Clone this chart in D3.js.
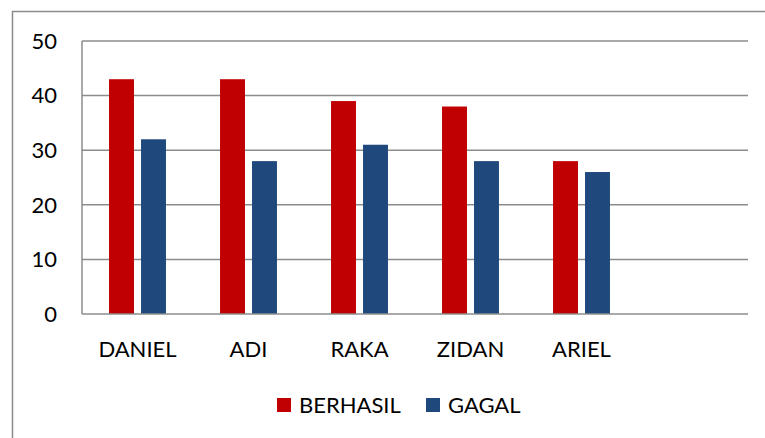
<!DOCTYPE html>
<html>
<head>
<meta charset="utf-8">
<script src="https://cdn.jsdelivr.net/npm/d3@7"></script>
<style>
  body { margin: 0; background: #fff; }
  svg text { font-family: Lato, "Open Sans", sans-serif; fill: #000; }
</style>
</head>
<body>
<div id="chart"></div>
<script>
const categories = ["DANIEL", "ADI", "RAKA", "ZIDAN", "ARIEL", ""];
const seriesNames = ["BERHASIL", "GAGAL"];
const berhasil = [43, 43, 39, 38, 28];
const gagal = [32, 28, 31, 28, 26];
const yTicks = [0, 10, 20, 30, 40, 50];
const colors = ["#c00000", "#1f497d"];

const width = 765, height = 438;
const plot = { left: 82, top: 41, right: 748, bottom: 314 };

const svg = d3.select("#chart").append("svg")
  .attr("width", width).attr("height", height);

// outer frame, runs off the right and bottom edges
svg.append("rect").attr("x", 12.5).attr("y", 11.5)
  .attr("width", 800).attr("height", 500)
  .attr("fill", "none").attr("stroke", "#8c8c8c").attr("stroke-width", 1.5);

const x = d3.scaleBand().domain(d3.range(categories.length))
  .range([plot.left, plot.right]);
const y = d3.scaleLinear().domain([0, 50]).range([plot.bottom, plot.top]);
const inner = d3.scaleBand().domain([0, 1])
  .range([0, x.bandwidth()]).paddingInner(0.22).paddingOuter(0.845);

// gridlines
svg.append("g").selectAll("line").data(yTicks.filter(d => d > 0)).enter().append("line")
  .attr("x1", plot.left).attr("x2", plot.right)
  .attr("y1", d => y(d)).attr("y2", d => y(d))
  .attr("stroke", "#8c8c8c").attr("stroke-width", 1.5);

// bars
const rows = categories.slice(0, berhasil.length).map((c, i) => ({ i, vals: [berhasil[i], gagal[i]] }));
svg.append("g").selectAll("g").data(rows).enter().append("g")
  .attr("transform", d => `translate(${x(d.i)},0)`)
  .selectAll("rect").data(d => d.vals.map((v, k) => ({ v, k }))).enter().append("rect")
    .attr("x", d => inner(d.k)).attr("width", inner.bandwidth())
    .attr("y", d => y(d.v)).attr("height", d => y(0) - y(d.v))
    .attr("fill", d => colors[d.k]);

// axis lines
svg.append("line").attr("x1", plot.left).attr("x2", plot.left)
  .attr("y1", plot.top).attr("y2", plot.bottom)
  .attr("stroke", "#8c8c8c").attr("stroke-width", 1.5);
svg.append("line").attr("x1", plot.left).attr("x2", plot.right)
  .attr("y1", plot.bottom).attr("y2", plot.bottom)
  .attr("stroke", "#8c8c8c").attr("stroke-width", 1.5);

// y tick labels
svg.append("g").selectAll("text").data(yTicks).enter().append("text")
  .attr("x", 57).attr("y", d => y(d)).attr("dy", "0.35em")
  .attr("text-anchor", "end").attr("font-size", 22).text(d => d);

// category labels
svg.append("g").selectAll("text").data(categories).enter().append("text")
  .attr("x", (d, i) => x(i) + x.bandwidth() / 2).attr("y", 357)
  .attr("text-anchor", "middle").attr("font-size", 22).text(d => d);

// legend
const legendX = [277, 426];
const legend = svg.append("g").selectAll("g").data(seriesNames).enter().append("g")
  .attr("transform", (d, i) => `translate(${legendX[i]},398)`);
legend.append("rect").attr("width", 14).attr("height", 14).attr("fill", (d, i) => colors[i]);
legend.append("text").attr("x", 22).attr("y", 15).attr("font-size", 22).text(d => d);
</script>
</body>
</html>
